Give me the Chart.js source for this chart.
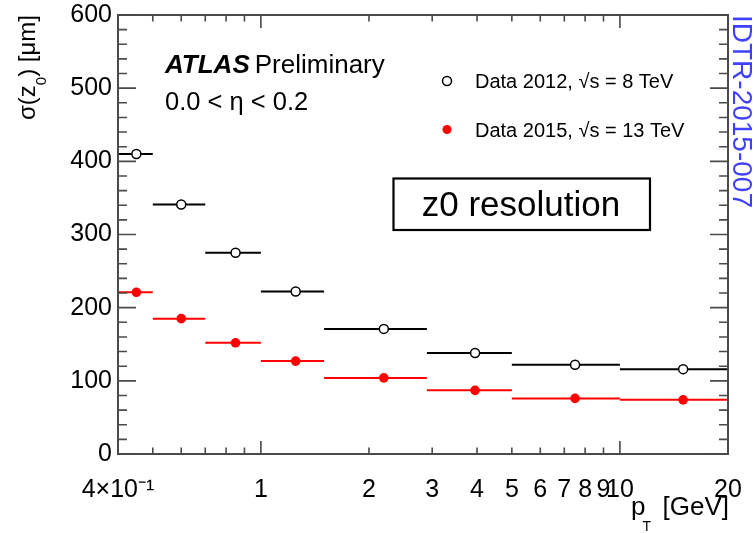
<!DOCTYPE html>
<html>
<head>
<meta charset="utf-8">
<script src="https://cdn.jsdelivr.net/npm/chart.js@4.4.1/dist/chart.umd.min.js"></script>
<style>
  html, body { margin: 0; padding: 0; background: #fff; }
  #wrap { width: 754px; height: 533px; }
</style>
</head>
<body>
<div id="wrap"><canvas id="c" width="754" height="533"></canvas></div>
<script>
// pT bins [GeV], mean pT per bin and z0 resolution [um]
const binEdges  = [0.4, 0.5, 0.7, 1.0, 1.5, 2.9, 5, 10, 20];
const meanPt    = [0.45, 0.6, 0.85, 1.25, 2.2, 3.95, 7.5, 15];
const sigma2012 = [410, 341, 275, 222, 171, 138, 122, 116];
const sigma2015 = [221, 185, 152, 127, 104, 87, 76, 74];

const xTickValues = [0.4, 1, 2, 3, 4, 5, 6, 7, 8, 9, 10, 20];
const xTickLabels = ['4×10⁻¹', '1', '2', '3', '4', '5', '6', '7', '8', '9', '10', '20'];
const xMajorTicks = [1, 10];
const xMinorTicks = [0.5, 0.6, 0.7, 0.8, 0.9, 2, 3, 4, 5, 6, 7, 8, 9];
const yTickValues = [0, 100, 200, 300, 400, 500, 600];

const seriesNames  = ['Data 2012, \u221As = 8 TeV', 'Data 2015, \u221As = 13 TeV'];
const seriesColors = ['#000000', '#ff0000'];

const FONT = "'Liberation Sans', Arial, Helvetica, sans-serif";
Chart.defaults.font.family = FONT;

// horizontal bin-width bars behind the markers
const binBars = {
  id: 'binBars',
  beforeDatasetsDraw(chart) {
    const ctx = chart.ctx, xs = chart.scales.x, ys = chart.scales.y;
    const series = [sigma2012, sigma2015];
    ctx.save();
    ctx.lineWidth = 2;
    series.forEach((vals, s) => {
      ctx.strokeStyle = seriesColors[s];
      vals.forEach((v, i) => {
        const y = ys.getPixelForValue(v);
        ctx.beginPath();
        ctx.moveTo(xs.getPixelForValue(binEdges[i]), y);
        ctx.lineTo(xs.getPixelForValue(binEdges[i + 1]), y);
        ctx.stroke();
      });
    });
    ctx.restore();
  }
};

// frame with inward ticks, titles, labels and legend
const decorations = {
  id: 'decorations',
  afterDraw(chart) {
    const ctx = chart.ctx, xs = chart.scales.x, ys = chart.scales.y;
    const a = chart.chartArea;
    ctx.save();
    ctx.strokeStyle = '#4a4a4a';
    ctx.lineWidth = 2;
    ctx.strokeRect(a.left, a.top, a.right - a.left, a.bottom - a.top);

    ctx.lineWidth = 1.6;
    ctx.beginPath();
    // y ticks: major every 100, minor every 20
    for (let v = 0; v <= 600; v += 20) {
      const y = ys.getPixelForValue(v);
      const len = (v % 100 === 0) ? 18 : 9;
      ctx.moveTo(a.left, y); ctx.lineTo(a.left + len, y);
      ctx.moveTo(a.right, y); ctx.lineTo(a.right - len, y);
    }
    xMajorTicks.forEach(v => {
      const x = xs.getPixelForValue(v);
      ctx.moveTo(x, a.bottom); ctx.lineTo(x, a.bottom - 13);
      ctx.moveTo(x, a.top); ctx.lineTo(x, a.top + 13);
    });
    xMinorTicks.forEach(v => {
      const x = xs.getPixelForValue(v);
      ctx.moveTo(x, a.bottom); ctx.lineTo(x, a.bottom - 6.5);
      ctx.moveTo(x, a.top); ctx.lineTo(x, a.top + 6.5);
    });
    ctx.stroke();

    ctx.fillStyle = '#000';
    ctx.textBaseline = 'alphabetic';

    // x title: p_T [GeV], right-aligned at the axis end
    ctx.font = '26px ' + FONT;
    ctx.textAlign = 'right';
    ctx.fillText('[GeV]', a.right + 1, 515);
    const wG = ctx.measureText('[GeV]').width;
    const pRight = a.right + 1 - wG - 17;
    ctx.fillText('p', pRight, 515);
    ctx.textAlign = 'left';
    ctx.font = '14px ' + FONT;
    ctx.fillText('T', pRight - 3, 531);

    // y title: sigma(z_0) [um], rotated, ending at the top of the axis
    ctx.save();
    ctx.translate(35, a.top);
    ctx.rotate(-Math.PI / 2);
    ctx.font = '24px ' + FONT;
    const wA = ctx.measureText('\u03C3(z').width;
    const wC = ctx.measureText(') [\u03BCm]').width;
    ctx.font = '15px ' + FONT;
    const wS = ctx.measureText('0').width;
    const u0 = -(wA + wS + wC);
    ctx.font = '24px ' + FONT;
    ctx.fillText('\u03C3(z', u0, 0);
    ctx.fillText(') [\u03BCm]', u0 + wA + wS, 0);
    ctx.font = '15px ' + FONT;
    ctx.fillText('0', u0 + wA, 11);
    ctx.restore();

    // experiment label and eta range
    ctx.font = 'italic bold 26px ' + FONT;
    ctx.fillText('ATLAS', 165, 73);
    const wAt = ctx.measureText('ATLAS').width;
    ctx.font = '26px ' + FONT;
    ctx.fillText('Preliminary', 165 + wAt + 5, 73);
    ctx.font = '25.5px ' + FONT;
    ctx.fillText('0.0 < \u03B7 < 0.2', 165, 110);

    // legend
    const legY = [81, 129.5];
    const legText = [87.5, 136.5];
    ctx.font = '20px ' + FONT;
    seriesNames.forEach((name, s) => {
      ctx.beginPath();
      ctx.arc(447, legY[s], 4.5, 0, Math.PI * 2);
      if (s === 0) {
        ctx.fillStyle = '#fff'; ctx.fill();
        ctx.strokeStyle = '#000'; ctx.lineWidth = 1.5; ctx.stroke();
      } else {
        ctx.fillStyle = seriesColors[1]; ctx.fill();
      }
      ctx.fillStyle = '#000';
      ctx.fillText(name, 475, legText[s]);
    });

    // boxed caption
    ctx.lineWidth = 2.2;
    ctx.strokeStyle = '#000';
    ctx.strokeRect(393.5, 178.5, 256.5, 51.5);
    ctx.font = '35px ' + FONT;
    ctx.textAlign = 'center';
    ctx.fillText('z0 resolution', 521, 216);

    // note reference, rotated along the right edge
    ctx.save();
    ctx.translate(733, a.top);
    ctx.rotate(Math.PI / 2);
    ctx.textAlign = 'left';
    ctx.fillStyle = '#4040fa';
    ctx.font = '28px ' + FONT;
    ctx.fillText('IDTR-2015-007', 0, 0);
    ctx.restore();

    ctx.restore();
  }
};

new Chart(document.getElementById('c'), {
  type: 'scatter',
  data: {
    datasets: [
      {
        label: seriesNames[0],
        data: meanPt.map((x, i) => ({ x, y: sigma2012[i] })),
        pointStyle: 'circle',
        pointRadius: 4.5,
        pointBackgroundColor: '#ffffff',
        pointBorderColor: seriesColors[0],
        pointBorderWidth: 1.5,
        showLine: false
      },
      {
        label: seriesNames[1],
        data: meanPt.map((x, i) => ({ x, y: sigma2015[i] })),
        pointStyle: 'circle',
        pointRadius: 4.8,
        pointBackgroundColor: seriesColors[1],
        pointBorderColor: seriesColors[1],
        pointBorderWidth: 0,
        showLine: false
      }
    ]
  },
  options: {
    responsive: false,
    animation: false,
    devicePixelRatio: 1,
    layout: { padding: { left: 0, right: 26, top: 15, bottom: 0 } },
    plugins: { legend: { display: false }, tooltip: { enabled: false } },
    scales: {
      x: {
        type: 'logarithmic',
        min: 0.4,
        max: 20,
        grid: { display: false, drawTicks: false },
        border: { display: false },
        afterBuildTicks(scale) { scale.ticks = xTickValues.map(v => ({ value: v })); },
        afterFit(scale) {
          scale.height = 79;
          scale.paddingLeft = 0;
          scale.paddingRight = 0;
        },
        ticks: {
          autoSkip: false,
          maxRotation: 0,
          padding: 21,
          color: '#000',
          font: { size: 25, family: FONT },
          callback(value) {
            const i = xTickValues.findIndex(v => Math.abs(v - value) < 1e-9);
            return i >= 0 ? xTickLabels[i] : '';
          }
        }
      },
      y: {
        type: 'linear',
        min: 0,
        max: 600,
        grid: { display: false, drawTicks: false },
        border: { display: false },
        afterBuildTicks(scale) { scale.ticks = yTickValues.map(v => ({ value: v })); },
        afterFit(scale) {
          scale.width = 118;
          scale.paddingTop = 0;
          scale.paddingBottom = 0;
        },
        ticks: {
          padding: 6,
          color: '#000',
          font: { size: 25, family: FONT }
        }
      }
    }
  },
  plugins: [binBars, decorations]
});
</script>
</body>
</html>
